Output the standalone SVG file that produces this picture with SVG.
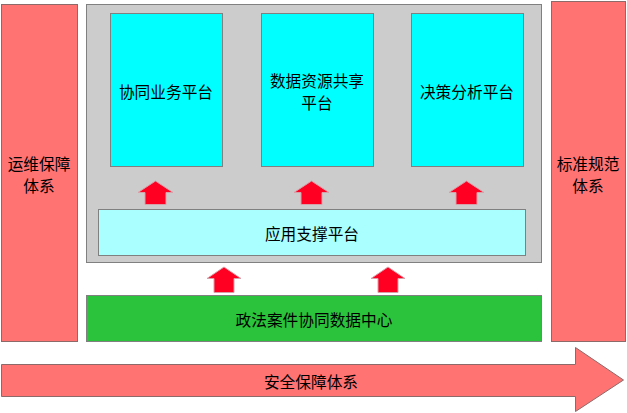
<svg xmlns="http://www.w3.org/2000/svg" width="627" height="413" viewBox="0 0 627 413">
<style>
.bar{fill:#FF7373;stroke:#8C6A6A;stroke-width:1}
.box{stroke:#808080;stroke-width:1}
.up{fill:#FF0022;stroke:#D8A0A8;stroke-width:1}
text{font-family:"Noto Sans CJK SC","Liberation Sans",sans-serif;font-size:15.7px;fill:#000;text-anchor:middle;dominant-baseline:central}
</style>
<rect width="627" height="413" fill="#FFFFFF"/>
<g id="ops">
<rect class="bar" x="1.5" y="4.5" width="76" height="337"/>
<text x="39" y="163">运维保障</text>
<text x="39" y="185">体系</text>
</g>
<g id="std">
<rect class="bar" x="551.5" y="1.5" width="74" height="340"/>
<text x="588" y="163">标准规范</text>
<text x="588" y="185">体系</text>
</g>
<g id="container">
<rect class="box" x="86.5" y="4.5" width="455" height="258" fill="#CCCCCC"/>
</g>
<g id="collab">
<rect class="box" x="110.5" y="13.5" width="112" height="153" fill="#00FFFF"/>
<text x="166" y="91">协同业务平台</text>
</g>
<g id="datashare">
<rect class="box" x="261.5" y="13.5" width="112" height="153" fill="#00FFFF"/>
<text x="317" y="80">数据资源共享</text>
<text x="317" y="102">平台</text>
</g>
<g id="decision">
<rect class="box" x="411.5" y="13.5" width="112" height="153" fill="#00FFFF"/>
<text x="467" y="91">决策分析平台</text>
</g>
<g id="appsupport">
<rect class="box" x="98.5" y="209.5" width="427" height="46" fill="#AAFFFF"/>
<text x="312" y="233">应用支撑平台</text>
</g>
<g id="datacenter">
<rect class="box" x="86.5" y="295.5" width="455" height="46" fill="#2BC33B"/>
<text x="314" y="319">政法案件协同数据中心</text>
</g>
<g id="security">
<path class="bar" d="M1.5,364.5 H575.5 V347.5 L623.5,380 L575.5,411.5 V396.5 H1.5 Z"/>
<text x="311" y="381">安全保障体系</text>
</g>
<g id="connectors">
<path class="up" d="M155.5,181 L173,192.5 H166 V204.5 H145 V192.5 H138 Z"/>
<path class="up" d="M311.5,181 L329,192.5 H322 V204.5 H301 V192.5 H294 Z"/>
<path class="up" d="M466.5,181 L484,192.5 H477 V204.5 H456 V192.5 H449 Z"/>
<path class="up" d="M224,267 L241,278.5 H234 V292.5 H214 V278.5 H207 Z"/>
<path class="up" d="M388,267 L405,278.5 H398 V292.5 H378 V278.5 H371 Z"/>
</g>
</svg>
